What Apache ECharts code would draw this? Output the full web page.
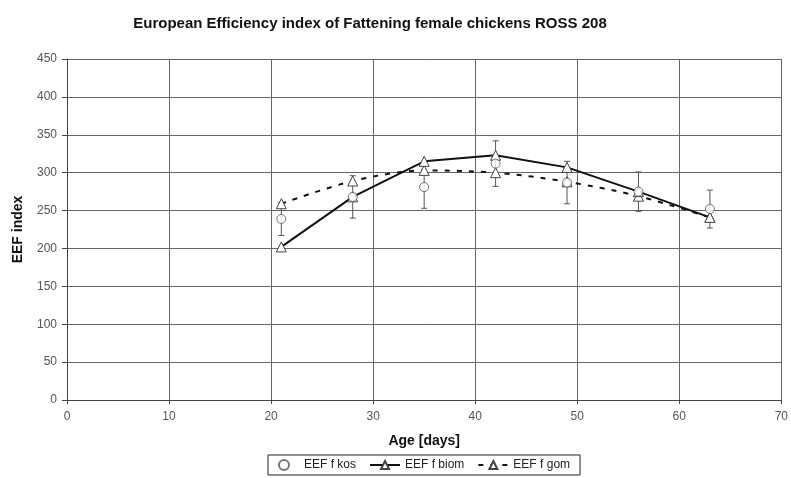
<!DOCTYPE html>
<html>
<head>
<meta charset="utf-8">
<script src="https://cdn.jsdelivr.net/npm/echarts@6/dist/echarts.min.js"></script>
<style>
  html, body { margin: 0; padding: 0; background: #fff; }
  #chart { width: 791px; height: 478px; }
</style>
</head>
<body>
<div id="chart"></div>
<script>
// data
var days = [21, 28, 35, 42, 49, 56, 63];
var kos = [239, 268, 281, 312, 287, 275, 252];
var kosErr = [22, 28, 28, 30, 28, 26, 25];
var biom = [202, 268, 315, 323, 307, 275, 241];
var gom = [259, 289, 303, 300, 288, 269, 241];

function pairs(vals) {
	var out = [];
	for (var i = 0; i < days.length; i++) out.push([days[i], vals[i]]);
	return out;
}

var errData = [];
for (var i = 0; i < days.length; i++) {
	errData.push([days[i], kos[i] - kosErr[i], kos[i] + kosErr[i]]);
}

var chart = echarts.init(document.getElementById('chart'));
var font = 'Liberation Sans, Arial, sans-serif';

var option = {
	backgroundColor: '#fff',
	animation: false,
	textStyle: { fontFamily: font },
	title: {
		text: 'European Efficiency index of Fattening female chickens ROSS 208',
		left: 365,
		textAlign: 'center',
		top: 11,
		textStyle: { fontSize: 15, fontWeight: 'bold', color: '#111', fontFamily: font }
	},
	grid: { left: 67, right: 6, top: 59, bottom: 78 },
	legend: {
		left: 268,
		top: 455,
		padding: [4, 10],
		itemGap: 13,
		itemWidth: 30,
		itemHeight: 10,
		borderColor: '#222',
		borderWidth: 1,
		textStyle: { fontSize: 12, color: '#222', fontFamily: font },
		data: ['EEF f kos', 'EEF f biom', 'EEF f gom']
	},
	xAxis: {
		type: 'value',
		min: 0, max: 70, interval: 10,
		name: 'Age [days]',
		nameLocation: 'middle',
		nameGap: 34,
		nameTextStyle: { fontSize: 14, fontWeight: 'bold', color: '#111' },
		axisLine: { lineStyle: { color: '#444' } },
		axisTick: { show: true, length: 4, lineStyle: { color: '#444' } },
		axisLabel: { fontSize: 12, color: '#555', margin: 11 },
		splitLine: { show: true, lineStyle: { color: '#666', width: 1 } }
	},
	yAxis: {
		type: 'value',
		min: 0, max: 450, interval: 50,
		name: 'EEF index',
		nameLocation: 'middle',
		nameGap: 42,
		nameTextStyle: { fontSize: 14, fontWeight: 'bold', color: '#111' },
		axisLine: { show: true, lineStyle: { color: '#444' } },
		axisTick: { show: true, length: 5, lineStyle: { color: '#444' } },
		axisLabel: { fontSize: 12, color: '#555', margin: 10 },
		splitLine: { show: true, lineStyle: { color: '#666', width: 1 } }
	},
	series: [
		{
			name: 'errbars',
			type: 'custom',
			z: 2,
			silent: true,
			data: errData,
			renderItem: function(params, api) {
				var x = api.value(0);
				var lo = api.coord([x, api.value(1)]);
				var hi = api.coord([x, api.value(2)]);
				var cap = 3;
				var st = { stroke: '#555', lineWidth: 1 };
				return {
					type: 'group',
					children: [
						{ type: 'line', shape: { x1: lo[0], y1: lo[1], x2: hi[0], y2: hi[1] }, style: st },
						{ type: 'line', shape: { x1: lo[0] - cap, y1: lo[1], x2: lo[0] + cap, y2: lo[1] }, style: st },
						{ type: 'line', shape: { x1: hi[0] - cap, y1: hi[1], x2: hi[0] + cap, y2: hi[1] }, style: st }
					]
				};
			}
		},
		{
			name: 'EEF f gom',
			type: 'line',
			z: 3,
			smooth: 0.3,
			data: pairs(gom),
			symbol: 'triangle',
			symbolSize: 10,
			lineStyle: { color: '#111', width: 2, type: [5, 7] },
			itemStyle: { color: '#fff', borderColor: '#444', borderWidth: 1 }
		},
		{
			name: 'EEF f biom',
			type: 'line',
			z: 4,
			data: pairs(biom),
			symbol: 'triangle',
			symbolSize: 10,
			lineStyle: { color: '#111', width: 2 },
			itemStyle: { color: '#fff', borderColor: '#444', borderWidth: 1 }
		},
		{
			name: 'EEF f kos',
			type: 'scatter',
			z: 5,
			data: pairs(kos),
			symbol: 'circle',
			symbolSize: 9,
			itemStyle: { color: '#fff', borderColor: '#555', borderWidth: 1 }
		}
	]
};
chart.setOption(option);
</script>
</body>
</html>
